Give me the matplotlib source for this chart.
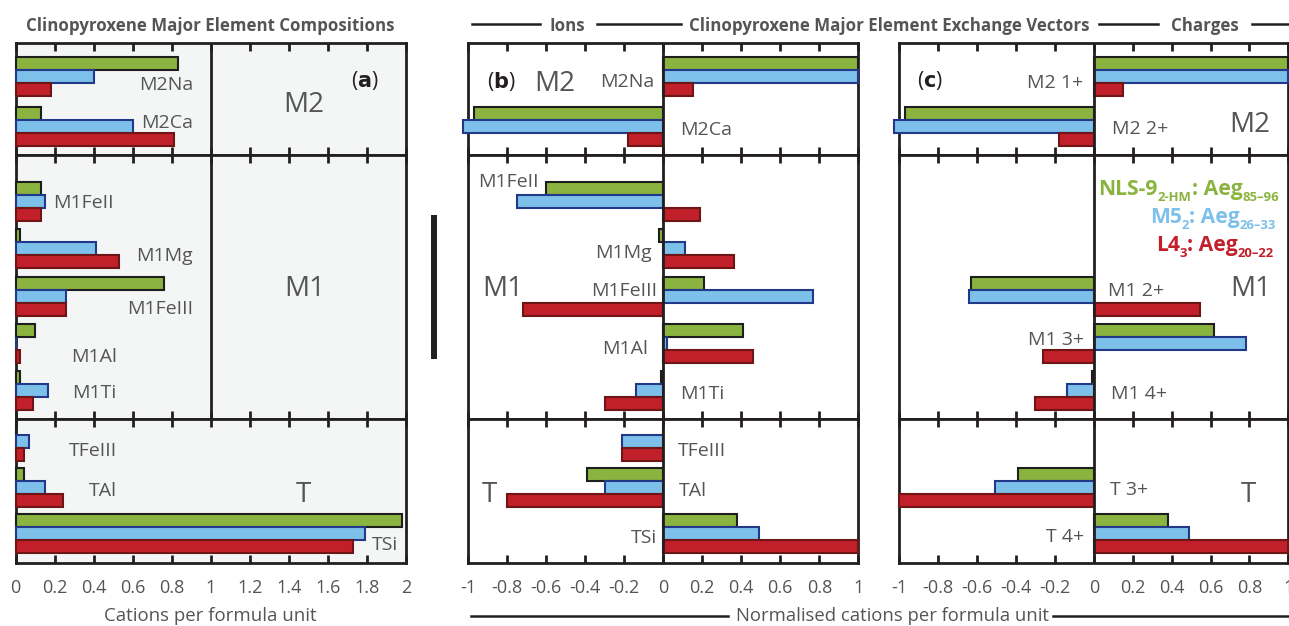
"""
Clinopyroxene major element compositions and exchange vectors (3 panels)
"""
import numpy as np
import matplotlib
matplotlib.use("Agg")
import matplotlib.pyplot as plt
from matplotlib.ticker import MultipleLocator, FuncFormatter

plt.rcParams["font.family"] = ["Open Sans", "DejaVu Sans"]
plt.rcParams["axes.unicode_minus"] = False

W, H, DPI = 1289, 626, 100

GREEN, GREEN_EC = "#8ab43f", "#1e1e1e"
BLUE, BLUE_EC = "#7dc0ea", "#22398a"
RED, RED_EC = "#c1202a", "#6e1516"
TXT = "#555555"
BG_A = "#f4f6f6"

# ---- data -------------------------------------------------------------
# panel (a): cations per formula unit
a_m2_labels = ["M2Na", "M2Ca"]
a_m2_green = [0.83, 0.13]
a_m2_blue = [0.40, 0.60]
a_m2_red = [0.18, 0.81]

a_m1_labels = ["M1FeII", "M1Mg", "M1FeIII", "M1Al", "M1Ti"]
a_m1_green = [0.13, 0.02, 0.76, 0.10, 0.02]
a_m1_blue = [0.15, 0.41, 0.26, 0.0, 0.165]
a_m1_red = [0.13, 0.53, 0.26, 0.02, 0.09]

a_t_labels = ["TFeIII", "TAl", "TSi"]
a_t_green = [0.0, 0.04, 1.98]
a_t_blue = [0.07, 0.15, 1.79]
a_t_red = [0.04, 0.24, 1.73]

# panel (b): normalised exchange vectors, ions
b_m2_green = [1.0, -0.97]
b_m2_blue = [1.0, -1.025]
b_m2_red = [0.15, -0.18]

b_m1_green = [-0.60, -0.02, 0.21, 0.41, -0.01]
b_m1_blue = [-0.75, 0.11, 0.77, 0.02, -0.14]
b_m1_red = [0.19, 0.36, -0.72, 0.46, -0.30]

b_t_green = [0.0, -0.39, 0.38]
b_t_blue = [-0.21, -0.30, 0.49]
b_t_red = [-0.21, -0.80, 1.0]

# panel (c): normalised exchange vectors, charges
c_m2_labels = ["M2 1+", "M2 2+"]
c_m2_green = [1.0, -0.97]
c_m2_blue = [1.0, -1.025]
c_m2_red = [0.15, -0.18]

c_m1_labels = ["M1 2+", "M1 3+", "M1 4+"]
c_m1_slots = [2, 3, 4]
c_m1_green = [-0.63, 0.62, -0.01]
c_m1_blue = [-0.64, 0.78, -0.14]
c_m1_red = [0.545, -0.26, -0.30]

c_t_labels = ["T 3+", "T 4+"]
c_t_slots = [1, 2]
c_t_green = [-0.39, 0.38]
c_t_blue = [-0.51, 0.49]
c_t_red = [-1.0, 1.0]

# ---- layout (image pixels from top-left) ------------------------------
TOP = 43
SECTIONS = {  # height, first bar top, slot spacing
    "M2": (112, 14, 50.0),
    "M1": (264, 27, 47.3),
    "T": (144, 3, 46.0),
}
ORDER = ["M2", "M1", "T"]
BAR_H = 13

PANELS = {  # left px, width px, xlim
    "a": (15.7, 390.5, (0, 2)),
    "b": (468.3, 390.0, (-1, 1)),
    "c": (899.3, 389.0, (-1, 1)),
}

fig = plt.figure(figsize=(W / DPI, H / DPI), dpi=DPI)


def fx(px):
    return px / W


def fy(py):
    return 1 - py / H


def tick_fmt(v, p):
    if abs(v) < 1e-9:
        return "0"
    return f"{v:.1f}".rstrip("0").rstrip(".")


def make_section_axes(panel):
    left, width, xlim = PANELS[panel]
    axes = {}
    y0 = TOP
    for sec in ORDER:
        h = SECTIONS[sec][0]
        ax = fig.add_axes([fx(left), fy(y0 + h), width / W, h / H])
        ax.set_xlim(*xlim)
        ax.set_ylim(h, 0)
        ax.set_facecolor(BG_A if panel == "a" else "white")
        for s in ax.spines.values():
            s.set_linewidth(2.0)
            s.set_color("#231f20")
        ax.xaxis.set_major_locator(MultipleLocator(0.2))
        ax.set_yticks([])
        ax.tick_params(axis="x", direction="in", length=6, width=2.0,
                       top=True, bottom=True, labelbottom=(sec == "T"),
                       color="#231f20", labelsize=13, labelcolor=TXT, pad=11.5)
        ax.xaxis.set_major_formatter(FuncFormatter(tick_fmt))
        # panel (a) has its x=1 divider only in the M2 and M1 blocks
        if panel != "a" or sec != "T":
            ax.axvline(1 if panel == "a" else 0, color="#231f20", lw=2.0, zorder=6)
        axes[sec] = (ax, y0)
        y0 += h
    return axes


def draw_groups(ax, sec, slots, green, blue, red):
    _, first, sp = SECTIONS[sec]
    slots = np.asarray(slots, dtype=float)
    tops = first + slots * sp
    for k, (vals, fc, ec) in enumerate([(green, GREEN, GREEN_EC),
                                        (blue, BLUE, BLUE_EC),
                                        (red, RED, RED_EC)]):
        ax.barh(tops + k * BAR_H + BAR_H / 2, vals, height=BAR_H, color=fc,
                edgecolor=ec, linewidth=1.5, clip_on=False, zorder=3)


def label(axes, sec, x, ybase_abs, text, ha, size=14):
    ax, y0 = axes[sec]
    ax.text(x, ybase_abs - y0, text, ha=ha, va="baseline", color=TXT,
            fontsize=size, zorder=7)


# ---- panel (a) --------------------------------------------------------
A = make_section_axes("a")
draw_groups(A["M2"][0], "M2", range(2), a_m2_green, a_m2_blue, a_m2_red)
draw_groups(A["M1"][0], "M1", range(5), a_m1_green, a_m1_blue, a_m1_red)
draw_groups(A["T"][0], "T", range(3), a_t_green, a_t_blue, a_t_red)

ax_to_a = lambda px: (px - 16) / 195.0
label(A, "M2", ax_to_a(193), 90, a_m2_labels[0], "right")
label(A, "M2", ax_to_a(193), 128, a_m2_labels[1], "right")
label(A, "M2", ax_to_a(304), 112, "M2", "center", 20)
label(A, "M1", ax_to_a(53), 208, a_m1_labels[0], "left")
label(A, "M1", ax_to_a(193), 261, a_m1_labels[1], "right")
label(A, "M1", ax_to_a(193), 314, a_m1_labels[2], "right")
label(A, "M1", ax_to_a(117), 362, a_m1_labels[3], "right")
label(A, "M1", ax_to_a(117), 398, a_m1_labels[4], "right")
label(A, "M1", ax_to_a(305), 296, "M1", "center", 20)
label(A, "T", ax_to_a(117), 456, a_t_labels[0], "right")
label(A, "T", ax_to_a(117), 496, a_t_labels[1], "right")
label(A, "T", ax_to_a(303), 502, "T", "center", 20)
label(A, "T", ax_to_a(398), 550, a_t_labels[2], "right")
A["M2"][0].text(ax_to_a(365), 87 - TOP, r"($\mathbf{a}$)", ha="center", va="baseline",
                color="#231f20", fontsize=15, zorder=7)

# ---- panel (b) --------------------------------------------------------
B = make_section_axes("b")
draw_groups(B["M2"][0], "M2", range(2), b_m2_green, b_m2_blue, b_m2_red)
draw_groups(B["M1"][0], "M1", range(5), b_m1_green, b_m1_blue, b_m1_red)
draw_groups(B["T"][0], "T", range(3), b_t_green, b_t_blue, b_t_red)

bx = lambda px: (px - 663) / 195.0
label(B, "M2", bx(554), 91, "M2", "center", 20)
label(B, "M2", bx(654), 87, a_m2_labels[0], "right")
label(B, "M2", bx(680), 135, a_m2_labels[1], "left")
label(B, "M1", bx(478), 187, a_m1_labels[0], "left")
label(B, "M1", bx(502), 296, "M1", "center", 20)
label(B, "M1", bx(651), 258, a_m1_labels[1], "right")
label(B, "M1", bx(657), 296, a_m1_labels[2], "right")
label(B, "M1", bx(648), 354, a_m1_labels[3], "right")
label(B, "M1", bx(680), 399, a_m1_labels[4], "left")
label(B, "T", bx(489), 502, "T", "center", 20)
label(B, "T", bx(678), 456, a_t_labels[0], "left")
label(B, "T", bx(679), 496, a_t_labels[1], "left")
label(B, "T", bx(657), 543, a_t_labels[2], "right")
B["M2"][0].text(bx(501), 88 - TOP, r"($\mathbf{b}$)", ha="center", va="baseline",
                color="#231f20", fontsize=15, zorder=7)

# ---- panel (c) --------------------------------------------------------
C = make_section_axes("c")
draw_groups(C["M2"][0], "M2", range(2), c_m2_green, c_m2_blue, c_m2_red)
draw_groups(C["M1"][0], "M1", c_m1_slots, c_m1_green, c_m1_blue, c_m1_red)
draw_groups(C["T"][0], "T", c_t_slots, c_t_green, c_t_blue, c_t_red)

cx = lambda px: (px - 1093) / 195.0
label(C, "M2", cx(1082), 88, c_m2_labels[0], "right")
label(C, "M2", cx(1111), 134, c_m2_labels[1], "left")
label(C, "M2", cx(1249), 132, "M2", "center", 20)
label(C, "M1", cx(1250), 296, "M1", "center", 20)
label(C, "M1", cx(1107), 296, c_m1_labels[0], "left")
label(C, "M1", cx(1083), 345, c_m1_labels[1], "right")
label(C, "M1", cx(1110), 399, c_m1_labels[2], "left")
label(C, "T", cx(1248), 502, "T", "center", 20)
label(C, "T", cx(1109), 495, c_t_labels[0], "left")
label(C, "T", cx(1083), 542, c_t_labels[1], "right")
C["M2"][0].text(cx(929), 87 - TOP, r"($\mathbf{c}$)", ha="center", va="baseline",
                color="#231f20", fontsize=15, zorder=7)

# ---- legend built from pieces (main + subscripts), right aligned ------
renderer = fig.canvas.get_renderer()


def rich_right(x_right, y_base, parts, color, size=15.2):
    x = x_right
    for txt, sub in reversed(parts):
        fs = size * 0.62 if sub else size
        yb = y_base + (6 if sub else 0)
        t = fig.text(fx(x), fy(yb), txt, ha="right", va="baseline",
                     fontsize=fs, fontweight="bold", color=color, zorder=8)
        x = t.get_window_extent(renderer).x0


rich_right(1279, 195, [("NLS-9", False), ("2-HM", True), (": Aeg", False),
                       ("85\u201396", True)], GREEN)
rich_right(1276, 223, [("M5", False), ("2", True), (": Aeg", False),
                       ("26\u201333", True)], BLUE)
rich_right(1274, 251, [("L4", False), ("3", True), (": Aeg", False),
                       ("20\u201322", True)], RED)

# ---- headers, footers, separator --------------------------------------
def hline(x0, x1, y):
    fig.add_artist(plt.Line2D([fx(x0), fx(x1)], [fy(y), fy(y)], color="#231f20",
                              lw=1.8, transform=fig.transFigure))


HEAD = 12.2
fig.text(fx(210), fy(31), "Clinopyroxene Major Element Compositions", ha="center",
         va="baseline", fontsize=HEAD, fontweight="bold", color=TXT)
hline(472, 540, 24)
fig.text(fx(567), fy(31), "Ions", ha="center", va="baseline", fontsize=HEAD,
         fontweight="bold", color=TXT)
hline(597, 681, 24)
fig.text(fx(889), fy(31), "Clinopyroxene Major Element Exchange Vectors", ha="center",
         va="baseline", fontsize=HEAD, fontweight="bold", color=TXT)
hline(1099, 1158, 24)
fig.text(fx(1205), fy(31), "Charges", ha="center", va="baseline", fontsize=HEAD,
         fontweight="bold", color=TXT)
hline(1252, 1289, 24)

fig.text(fx(210), fy(621), "Cations per formula unit", ha="center", va="baseline",
         fontsize=13.4, color=TXT)
fig.text(fx(892), fy(621), "Normalised cations per formula unit", ha="center",
         va="baseline", fontsize=13.3, color=TXT)
hline(471, 728, 616)
hline(1053, 1289, 616)

fig.add_artist(plt.Line2D([fx(434), fx(434)], [fy(215), fy(359)], color="#231f20",
                          lw=4.3, solid_capstyle="butt", transform=fig.transFigure))

fig.savefig("out.png", dpi=DPI)
